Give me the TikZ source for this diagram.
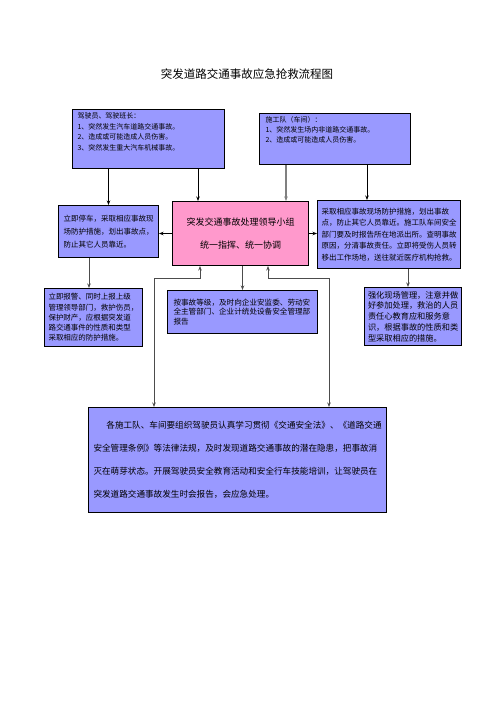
\documentclass[tikz,border=0pt]{standalone}
\usepackage{fontspec}
\setmainfont{Noto Sans CJK SC}
\usepackage{tikz}
\usetikzlibrary{arrows.meta,positioning,calc}
\definecolor{boxblue}{HTML}{9999FF}
\definecolor{boxpink}{HTML}{FF99CC}
\newcommand{\fs}[2]{\fontsize{#1}{#2}\selectfont}
\newcommand{\toptext}[3]{\parbox[c][#1][t]{#2}{#3}}

\begin{document}
\begin{tikzpicture}[x=1pt,y=-1pt,
  box/.style={draw,line width=1pt,fill=boxblue,anchor=north west,inner xsep=5pt,inner ysep=3pt,align=left},
  arr/.style={-{Stealth[length=4.5pt,width=3.5pt]},line width=0.8pt},
  twoway/.style={{Stealth[length=4.5pt,width=3.5pt]}-{Stealth[length=4.5pt,width=3.5pt]},line width=0.8pt}]
\useasboundingbox (0,0) rectangle (496,702);
\node[font=\fs{11.5}{14}] (title) at (247,74) {突发道路交通事故应急抢救流程图};

\node[box,font=\fs{7}{10.8}] (driver) at (72,109)
  {\toptext{53pt}{142pt}{驾驶员、驾驶班长：\\1、突然发生汽车道路交通事故。\\2、造成或可能造成人员伤害。\\3、突然发生重大汽车机械事故。}};
\node[box,inner xsep=6pt,font=\fs{7}{10}] (crew) at (259,113)
  {\toptext{45pt}{139pt}{施工队（车间）：\\1、突然发生场内非道路交通事故。\\2、造成或可能造成人员伤害。}};

\node[box,minimum width=100pt,minimum height=52pt,text width=90pt,font=\fs{7.5}{13}] (stop) at (58,205)
  {立即停车，采取相应事故现\\场防护措施，划出事故点，\\防止其它人员靠近。};
\node[box,fill=boxpink,align=center,minimum width=136pt,minimum height=64pt,font=\fs{9}{23}] (lead) at (172,201)
  {突发交通事故处理领导小组\\统一指挥、统一协调};
\node[box,inner xsep=4pt,minimum width=143pt,minimum height=68pt,text width=135pt,font=\fs{7.5}{11.5}] (rescue) at (317,200)
  {采取相应事故现场防护措施，划出事故\\点，防止其它人员靠近。施工队车间安全\\部门要及时报告所在地派出所。查明事故\\原因，分清事故责任。立即将受伤人员转\\移出工作场地，送往就近医疗机构抢救。};

\node[box,inner xsep=4pt,minimum width=98pt,minimum height=58pt,text width=90pt,font=\fs{7.5}{10.3}] (alarm) at (44,288)
  {立即报警、同时上报上级\\管理领导部门，救护伤员，\\保护财产，应根据突发道\\路交通事件的性质和类型\\采取相应的防护措施。};
\node[box,inner xsep=6pt,minimum width=150pt,minimum height=43pt,text width=138pt,font=\fs{7.6}{9.7}] (report) at (167,290)
  {按事故等级，及时向企业安监委、劳动安\\全主管部门、企业计统处设备安全管理部\\报告};
\node[box,inner xsep=3.5pt,minimum width=97pt,minimum height=58pt,text width=90pt,font=\fs{8.2}{10.8}] (care) at (364,287)
  {强化现场管理，注意并做\\好参加处理，救治的人员\\责任心教育应和服务意\\识，根据事故的性质和类\\型采取相应的措施。};

\node[box,minimum width=298pt,minimum height=105pt,text width=288pt,font=\fs{8.6}{23}] (drill) at (88,407)
  {\hspace*{1.5em}各施工队、车间要组织驾驶员认真学习贯彻《交通安全法》、《道路交通\\安全管理条例》等法律法规，及时发现道路交通事故的潜在隐患，把事故消\\灭在萌芽状态。开展驾驶员安全教育活动和安全行车技能培训，让驾驶员在\\突发道路交通事故发生时会报告，会应急处理。};

\draw[arr] (driver.south -| stop.north) -- (stop.north);
\draw[arr] ([xshift=26pt]lead.north west |- driver.south) -- ([xshift=26pt]lead.north west);
\draw[arr,gray,line width=1.2pt] ([xshift=-23pt]lead.north east |- crew.south) -- ([xshift=-23pt]lead.north east);
\draw[arr] ([xshift=50pt]rescue.north west |- crew.south) -- ([xshift=50pt]rescue.north west);
\draw[arr] (lead.west) -- (lead.west -| stop.east);
\draw[arr] (lead.east) -- (lead.east -| rescue.west);
\draw[arr,black!70] ([xshift=45pt]alarm.north west |- stop.south) -- ([xshift=45pt]alarm.north west);
\draw[arr,black!70] ([xshift=44pt]care.north west |- rescue.south) -- ([xshift=44pt]care.north west);
\draw[arr,black!70] (lead.south -| report.north) -- (report.north);
\draw[twoway,black!70] ([xshift=28pt]lead.south west) -- ++(0,12) -| ([xshift=66pt]drill.north west);
\draw[twoway,black!70] ([xshift=-41pt]lead.south east) -- ++(0,12) -| ([xshift=-58pt]drill.north east);
\end{tikzpicture}
\end{document}
